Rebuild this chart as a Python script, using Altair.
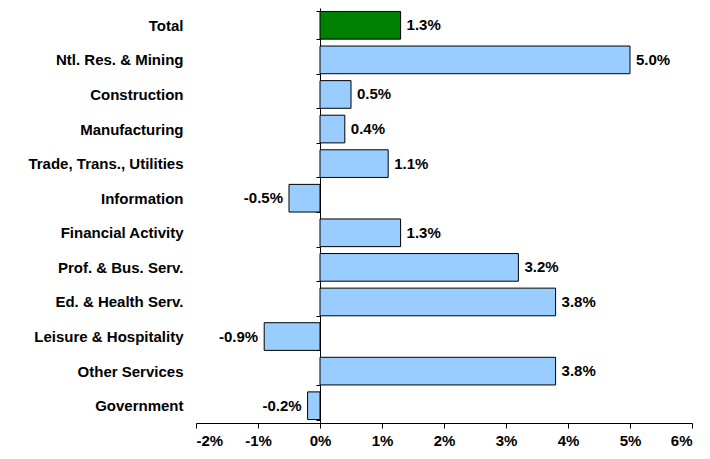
import altair as alt
import pandas as pd

categories = ["Total", "Ntl. Res. & Mining", "Construction", "Manufacturing",
              "Trade, Trans., Utilities", "Information", "Financial Activity",
              "Prof. & Bus. Serv.", "Ed. & Health Serv.", "Leisure & Hospitality",
              "Other Services", "Government"]
values = [1.3, 5.0, 0.5, 0.4, 1.1, -0.5, 1.3, 3.2, 3.8, -0.9, 3.8, -0.2]
kinds = ["total"] + ["sector"] * 11

df = pd.DataFrame({"cat": categories, "val": values, "kind": kinds})
df["label"] = df["val"].map(lambda v: f"{v:.1f}%")

FONT = "Liberation Sans"
FS = 15
xscale = alt.Scale(domain=[-2, 6], nice=False, zero=False)
yscale = alt.Scale(domain=categories, paddingInner=0.2, paddingOuter=0.1)

y_enc = alt.Y("cat:N", scale=yscale, sort=categories, title=None,
              axis=alt.Axis(offset=-124, tickSize=4, tickBand="extent",
                            labelPadding=133, labelFont=FONT, labelFontSize=FS,
                            labelFontWeight="bold", labelColor="black",
                            domainColor="black", tickColor="black",
                            labelLimit=300))

bars = alt.Chart(df).mark_bar(stroke="black", strokeWidth=1).encode(
    x=alt.X("val:Q", scale=xscale, title=None,
            axis=alt.Axis(values=list(range(-2, 7)), labelExpr="datum.value + '%'",
                          grid=False, tickSize=5, labelFont=FONT, labelFontSize=FS,
                          labelFontWeight="bold", labelColor="black",
                          domainColor="black", tickColor="black", labelPadding=5)),
    x2=alt.datum(0),
    y=y_enc,
    color=alt.Color("kind:N", scale=alt.Scale(domain=["total", "sector"],
                                               range=["#008000", "#99CCFF"]), legend=None),
)

pos_text = alt.Chart(df).transform_filter("datum.val >= 0").mark_text(
    align="left", dx=6, font=FONT, fontSize=FS, fontWeight="bold", color="black"
).encode(x=alt.X("val:Q", scale=xscale), y=alt.Y("cat:N", scale=yscale, sort=categories), text="label:N")

neg_text = alt.Chart(df).transform_filter("datum.val < 0").mark_text(
    align="right", dx=-6, font=FONT, fontSize=FS, fontWeight="bold", color="black"
).encode(x=alt.X("val:Q", scale=xscale), y=alt.Y("cat:N", scale=yscale, sort=categories), text="label:N")

chart = alt.layer(bars, pos_text, neg_text).properties(
    width=496, height=415,
    autosize=alt.AutoSizeParams(type="none"),
    padding={"left": 188, "top": 0, "right": 6, "bottom": 30},
).configure_view(stroke=None)

chart.save("out.html", embed_options={"renderer": "svg", "actions": False})
